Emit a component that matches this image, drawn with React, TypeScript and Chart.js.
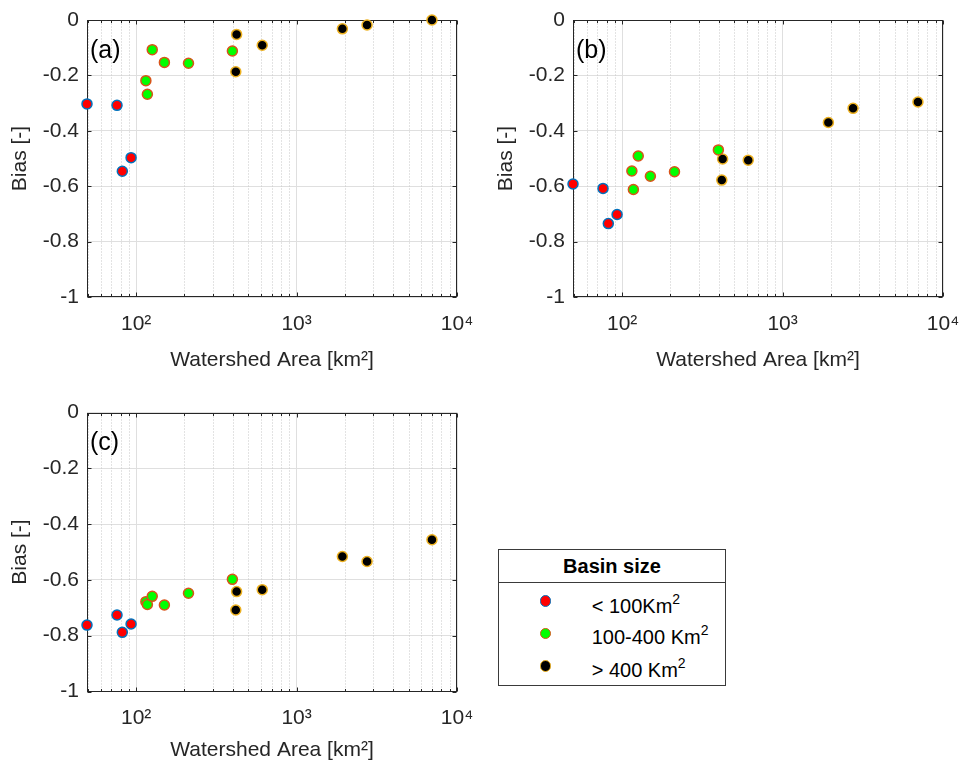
import React, { useEffect, useRef } from 'react';
import { Chart, registerables } from 'chart.js';

Chart.register(...registerables);

// ---------------- data ----------------
const AREA_SMALL = [49.4, 76, 82, 93];
const AREA_MEDIUM = [115, 117.5, 126, 150, 212, 398];
const AREA_LARGE = [423, 418, 611, 1930, 2750, 6980];

const BIAS_A_SMALL = [-0.303, -0.308, -0.546, -0.497];
const BIAS_A_MEDIUM = [-0.219, -0.268, -0.107, -0.153, -0.156, -0.112];
const BIAS_A_LARGE = [-0.052, -0.187, -0.091, -0.032, -0.018, 0.0];

const BIAS_B_SMALL = [-0.592, -0.608, -0.735, -0.702];
const BIAS_B_MEDIUM = [-0.545, -0.612, -0.491, -0.564, -0.548, -0.469];
const BIAS_B_LARGE = [-0.502, -0.578, -0.506, -0.37, -0.319, -0.296];

const BIAS_C_SMALL = [-0.762, -0.726, -0.788, -0.758];
const BIAS_C_MEDIUM = [-0.678, -0.688, -0.659, -0.69, -0.648, -0.598];
const BIAS_C_LARGE = [-0.642, -0.708, -0.635, -0.516, -0.534, -0.456];

const X_MIN = 49.4;
const X_MAX = 10000;
const X_MAJOR_TICKS = [100, 1000, 10000];
const X_TICK_LABELS = ['10\u00b2', '10\u00b3', '10\u2074'];
const X_MINOR_TICKS = [50, 60, 70, 80, 90, 200, 300, 400, 500, 600, 700, 800, 900, 2000, 3000, 4000, 5000, 6000, 7000, 8000, 9000];
const Y_TICKS = [-1, -0.8, -0.6, -0.4, -0.2, 0];
const Y_TICK_LABELS = ['-1', '-0.8', '-0.6', '-0.4', '-0.2', '0'];
const X_TITLE = 'Watershed Area [km\u00b2]';
const Y_TITLE = 'Bias [-]';
const LEGEND_TITLE = 'Basin size';
const GROUP_LABELS = ['< 100Km', '100-400 Km', '> 400 Km'];

// ---------------- styles ----------------
const FONT = '"Liberation Sans", Arial, Helvetica, sans-serif';
const TEXT = '#262626';
const FILLS = ['#ff0000', '#00ff00', '#000000'];
const EDGES = ['#0072bd', '#d95319', '#edb120'];

type Panel = {
  label: string;
  small: number[];
  medium: number[];
  large: number[];
  left: number;
  top: number;
  height: number;
  padTop: number;
  plotH: number;
  titleCenter: number;
};

const PANELS: Panel[] = [
  { label: '(a)', small: BIAS_A_SMALL, medium: BIAS_A_MEDIUM, large: BIAS_A_LARGE, left: 0, top: 0, height: 374, padTop: 20, plotH: 277, titleCenter: 360 },
  { label: '(b)', small: BIAS_B_SMALL, medium: BIAS_B_MEDIUM, large: BIAS_B_LARGE, left: 486.3, top: 0, height: 374, padTop: 20, plotH: 277, titleCenter: 360 },
  { label: '(c)', small: BIAS_C_SMALL, medium: BIAS_C_MEDIUM, large: BIAS_C_LARGE, left: 0, top: 392, height: 374, padTop: 20.5, plotH: 279, titleCenter: 358.3 },
];

const CANVAS_W = 490;
const Y_AXIS_W = 87;
const PAD_RIGHT = 33;
const TICK_FONT = 21;
const TITLE_FONT = 21;

function framePlugin(label: string) {
  return {
    id: 'frame' + label.replace(/[()]/g, ''),
    beforeDatasetsDraw(chart: any) {
      const { ctx, chartArea } = chart;
      const { left, right, top, bottom } = chartArea;
      const xs = chart.scales.x;
      const ys = chart.scales.y;
      const L = Math.round(left) + 0.5;
      const R = Math.round(right) - 0.5;
      const T = Math.round(top) + 0.5;
      const B = Math.round(bottom) - 0.5;
      ctx.save();
      // minor dotted grid
      ctx.lineWidth = 1;
      ctx.strokeStyle = '#c6c6c6';
      ctx.setLineDash([1, 2]);
      for (const v of X_MINOR_TICKS) {
        if (v <= X_MIN || v >= X_MAX) continue;
        const px = Math.round(xs.getPixelForValue(v)) + 0.5;
        ctx.beginPath();
        ctx.moveTo(px, T);
        ctx.lineTo(px, B);
        ctx.stroke();
      }
      ctx.setLineDash([]);
      // inner tick marks
      ctx.strokeStyle = TEXT;
      const drawX = (v: number, len: number) => {
        const px = Math.round(xs.getPixelForValue(v)) + 0.5;
        ctx.beginPath();
        ctx.moveTo(px, B);
        ctx.lineTo(px, B - len);
        ctx.moveTo(px, T);
        ctx.lineTo(px, T + len);
        ctx.stroke();
      };
      for (const v of X_MINOR_TICKS) if (v > X_MIN && v < X_MAX) drawX(v, 2.5);
      for (const v of X_MAJOR_TICKS) drawX(v, 4);
      for (const v of Y_TICKS) {
        const py = Math.round(ys.getPixelForValue(v)) + 0.5;
        ctx.beginPath();
        ctx.moveTo(L, py);
        ctx.lineTo(L + 4, py);
        ctx.moveTo(R, py);
        ctx.lineTo(R - 4, py);
        ctx.stroke();
      }
      // box
      ctx.strokeRect(L, T, R - L, B - T);
      // panel label
      ctx.fillStyle = '#000000';
      ctx.font = `25px ${FONT}`;
      ctx.textAlign = 'left';
      ctx.textBaseline = 'middle';
      ctx.fillText(label, left + 3, top + 31);
      ctx.restore();
    },
  };
}

function makeConfig(p: Panel): any {
  const xHeight = p.height - p.padTop - p.plotH;
  const titleLH = TITLE_FONT * 1.2;
  const titlePadBottom = p.height - p.titleCenter - titleLH / 2;
  const groups = [
    { label: GROUP_LABELS[0], xs: AREA_SMALL, ys: p.small },
    { label: GROUP_LABELS[1], xs: AREA_MEDIUM, ys: p.medium },
    { label: GROUP_LABELS[2], xs: AREA_LARGE, ys: p.large },
  ];
  return {
    type: 'scatter',
    data: {
      datasets: groups.map((g, gi) => ({
        label: g.label,
        data: g.xs.map((x, i) => ({ x, y: g.ys[i] })),
        backgroundColor: FILLS[gi],
        borderColor: EDGES[gi],
        pointBackgroundColor: FILLS[gi],
        pointBorderColor: EDGES[gi],
        pointRadius: 5,
        pointBorderWidth: 1.5,
        pointHoverRadius: 5,
        clip: false,
      })),
    },
    options: {
      responsive: false,
      animation: false,
      devicePixelRatio: 1,
      events: [],
      layout: { padding: { left: 0, top: p.padTop, right: PAD_RIGHT, bottom: 0 } },
      plugins: { legend: { display: false }, tooltip: { enabled: false } },
      scales: {
        x: {
          type: 'logarithmic',
          position: 'bottom',
          min: X_MIN,
          max: X_MAX,
          afterBuildTicks: (s: any) => {
            s.ticks = X_MAJOR_TICKS.map((v) => ({ value: v, major: true }));
          },
          afterFit: (s: any) => {
            s.height = xHeight;
            s.paddingLeft = 0;
            s.paddingRight = 0;
          },
          ticks: {
            autoSkip: false,
            maxRotation: 0,
            minRotation: 0,
            padding: 14.4,
            color: TEXT,
            font: { family: FONT, size: TICK_FONT },
            callback: (v: any) => {
              const i = X_MAJOR_TICKS.indexOf(Number(v));
              return i >= 0 ? X_TICK_LABELS[i] : '';
            },
          },
          grid: { color: '#dfdfdf', drawTicks: false, lineWidth: 1 },
          border: { display: false },
          title: {
            display: true,
            text: X_TITLE,
            color: TEXT,
            font: { family: FONT, size: TITLE_FONT },
            padding: { top: 0, bottom: titlePadBottom },
          },
        },
        y: {
          type: 'linear',
          min: -1,
          max: 0,
          afterBuildTicks: (s: any) => {
            s.ticks = Y_TICKS.map((v) => ({ value: v }));
          },
          afterFit: (s: any) => {
            s.width = Y_AXIS_W;
            s.paddingTop = 0;
            s.paddingBottom = 0;
          },
          ticks: {
            padding: 8,
            color: TEXT,
            font: { family: FONT, size: TICK_FONT },
            callback: (v: any) => {
              const i = Y_TICKS.findIndex((t) => Math.abs(t - Number(v)) < 1e-9);
              return i >= 0 ? Y_TICK_LABELS[i] : '';
            },
          },
          grid: { color: '#dfdfdf', drawTicks: false, lineWidth: 1 },
          border: { display: false },
          title: {
            display: true,
            text: Y_TITLE,
            color: TEXT,
            font: { family: FONT, size: TITLE_FONT },
            padding: { top: 7.4, bottom: 0 },
          },
        },
      },
    },
    plugins: [framePlugin(p.label)],
  };
}

function PanelChart({ p }: { p: Panel }) {
  const ref = useRef<HTMLCanvasElement | null>(null);
  useEffect(() => {
    if (!ref.current) return;
    const chart = new Chart(ref.current, makeConfig(p));
    return () => chart.destroy();
  }, [p]);
  return (
    <canvas
      ref={ref}
      width={CANVAS_W}
      height={p.height}
      style={{ position: 'absolute', left: p.left, top: p.top, width: CANVAS_W, height: p.height }}
    />
  );
}

function Legend() {
  const rows = [601, 633.3, 666];
  const baselines = [612.7, 644, 676.7];
  return (
    <div>
      <div
        style={{
          position: 'absolute',
          left: 498,
          top: 549,
          width: 228,
          height: 137,
          boxSizing: 'border-box',
          border: '1px solid #3a3a3a',
          background: '#ffffff',
        }}
      />
      <div style={{ position: 'absolute', left: 498, top: 582, width: 228, height: 1, background: '#3a3a3a' }} />
      <div
        style={{
          position: 'absolute',
          left: 498,
          top: 572.7 - 16.9,
          width: 228,
          textAlign: 'center',
          font: `bold 20px ${FONT}`,
          lineHeight: '20px',
          color: '#000',
          whiteSpace: 'nowrap',
        }}
      >
        {LEGEND_TITLE}
      </div>
      {GROUP_LABELS.map((lab, i) => (
        <React.Fragment key={lab}>
          <div
            style={{
              position: 'absolute',
              left: 545.7 - 5.75,
              top: rows[i] - 5.75,
              width: 11.5,
              height: 11.5,
              boxSizing: 'border-box',
              borderRadius: '50%',
              background: FILLS[i],
              border: `1.5px solid ${EDGES[i]}`,
            }}
          />
          <div
            style={{
              position: 'absolute',
              left: 591.7,
              top: baselines[i] - 16.9,
              font: `20px ${FONT}`,
              lineHeight: '20px',
              color: '#000',
              whiteSpace: 'nowrap',
            }}
          >
            {lab}
            <span style={{ fontSize: 14, position: 'relative', top: -9 }}>2</span>
          </div>
        </React.Fragment>
      ))}
    </div>
  );
}

export default function App() {
  return (
    <div style={{ position: 'fixed', left: 0, top: 0, width: 964, height: 766, background: '#ffffff', overflow: 'hidden' }}>
      {PANELS.map((p) => (
        <PanelChart key={p.label} p={p} />
      ))}
      <Legend />
    </div>
  );
}
